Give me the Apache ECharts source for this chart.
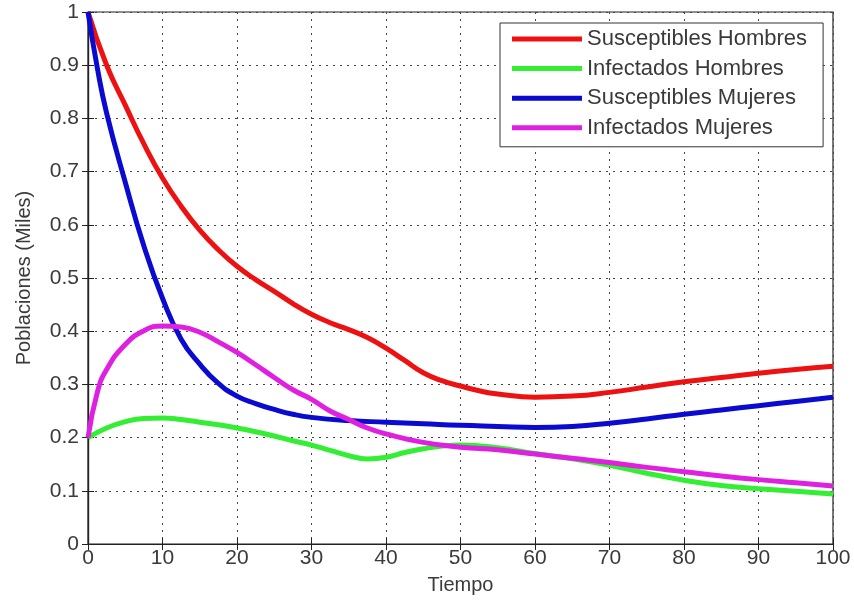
<!DOCTYPE html>
<html><head><meta charset="utf-8">
<script src="https://cdn.jsdelivr.net/npm/echarts@6/dist/echarts.min.js"></script>
<style>html,body{margin:0;padding:0;background:#fff}#c{width:854px;height:600px}</style>
</head><body><div id="c"></div>
<script>
const seriesNames = ['Susceptibles Hombres','Infectados Hombres','Susceptibles Mujeres','Infectados Mujeres'];
const seriesColors = ['#ee1111','#33ee33','#0a0ad0','#e020e0'];
const tSH = [0,2.5,5,7.5,10,12.5,15,17.5,20,22.5,25,27.5,30,32.5,35,37.5,40,42.5,45,47.5,50,52.5,55,60,65,70,75,80,85,90,95,100];
const vSH = [1.0,0.9,0.825,0.752,0.688,0.635,0.59,0.553,0.522,0.497,0.475,0.452,0.432,0.416,0.403,0.388,0.368,0.345,0.322,0.307,0.297,0.288,0.282,0.276,0.278,0.285,0.295,0.305,0.313,0.321,0.328,0.334];
const tIH = [0,2.5,5,7.5,10,12.5,15,17.5,20,22.5,25,27.5,30,32.5,35,37.5,40,42.5,45,47.5,50,55,60,65,70,75,80,85,90,95,100];
const vIH = [0.2,0.218,0.23,0.236,0.237,0.234,0.229,0.224,0.218,0.211,0.203,0.194,0.186,0.176,0.166,0.16,0.163,0.172,0.179,0.184,0.186,0.181,0.17,0.16,0.148,0.133,0.12,0.11,0.104,0.099,0.094];
const tSM = [0,1.25,2.5,5,7.5,10,12.5,15,17.5,20,22.5,25,27.5,30,35,40,45,50,55,60,65,70,75,80,85,90,95,100];
const vSM = [1.0,0.895,0.81,0.68,0.56,0.462,0.385,0.338,0.302,0.278,0.264,0.253,0.244,0.238,0.232,0.229,0.226,0.223,0.221,0.219,0.221,0.227,0.235,0.244,0.252,0.26,0.268,0.276];
const tIM = [0,1.25,2.5,5,7.5,10,12.5,15,17.5,20,22.5,25,27.5,30,32.5,35,37.5,40,45,50,55,60,65,70,75,80,85,90,95,100];
const vIM = [0.2,0.285,0.328,0.375,0.401,0.41,0.408,0.398,0.38,0.36,0.337,0.313,0.29,0.272,0.25,0.234,0.218,0.207,0.191,0.182,0.177,0.169,0.161,0.153,0.144,0.136,0.128,0.121,0.115,0.109];
const xTicks = [0,10,20,30,40,50,60,70,80,90,100];
const yTicks = [0,0.1,0.2,0.3,0.4,0.5,0.6,0.7,0.8,0.9,1];

const times = [tSH,tIH,tSM,tIM];
const vals = [vSH,vIH,vSM,vIM];
const font = '"Liberation Sans", Arial, sans-serif';
const chart = echarts.init(document.getElementById('c'));
const lbl = {fontSize:21,color:'#3a3a3a',fontFamily:font};
chart.setOption({
  animation:false,
  backgroundColor:'#fff',
  grid:{left:88,right:21,top:12,bottom:55,show:true,borderColor:'#222',borderWidth:1.2,backgroundColor:'#fff'},
  xAxis:[{type:'value',min:0,max:100,interval:10,name:'Tiempo',nameLocation:'middle',nameGap:31,
    nameTextStyle:{fontSize:20,color:'#3a3a3a',fontFamily:font},
    axisLine:{show:true,lineStyle:{color:'#222',width:1.2}},
    axisTick:{show:true,inside:true,length:6,lineStyle:{color:'#222'}},
    axisLabel:Object.assign({margin:4},lbl),
    splitLine:{show:true,lineStyle:{color:'#444',type:[2,5],width:1}}},
   {type:'value',position:'top',min:0,max:100,interval:10,axisLine:{show:true,lineStyle:{color:'#222',width:1.2}},
    axisTick:{show:true,inside:true,length:6,lineStyle:{color:'#222'}},axisLabel:{show:false},splitLine:{show:false}}],
  yAxis:[{type:'value',min:0,max:1,interval:0.1,name:'Poblaciones (Miles)',nameLocation:'middle',nameGap:54,
    nameTextStyle:{fontSize:20,color:'#3a3a3a',fontFamily:font},
    axisLine:{show:true,lineStyle:{color:'#222',width:1.2}},
    axisTick:{show:true,inside:true,length:6,lineStyle:{color:'#222'}},
    axisLabel:Object.assign({margin:9},lbl),
    splitLine:{show:true,lineStyle:{color:'#444',type:[2,5],width:1}}},
   {type:'value',position:'right',min:0,max:1,interval:0.1,axisLine:{show:true,lineStyle:{color:'#222',width:1.2}},
    axisTick:{show:true,inside:true,length:6,lineStyle:{color:'#222'}},axisLabel:{show:false},splitLine:{show:false}}],
  legend:{show:true,orient:'vertical',left:500,top:23,padding:[3,16,6,12],itemGap:3.6,
    borderColor:'#333',borderWidth:1,backgroundColor:'#fff',
    itemWidth:70,itemHeight:5,icon:'rect',
    textStyle:{fontSize:22,lineHeight:26,color:'#3a3a3a',fontFamily:font},
    data:seriesNames},
  series:seriesNames.map((n,i)=>({
    name:n,type:'line',smooth:0.5,showSymbol:false,
    color:seriesColors[i],
    lineStyle:{width:5,color:seriesColors[i]},
    z: 2+i,
    data:times[i].map((t,j)=>[t,vals[i][j]])
  }))
});
</script></body></html>
